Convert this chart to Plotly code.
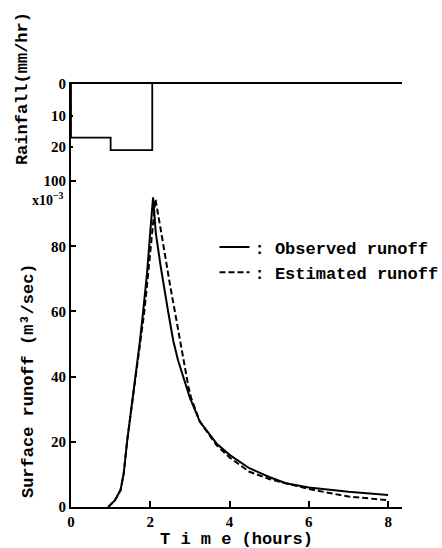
import plotly.graph_objects as go

# Rainfall hyetograph (mm/hr)
rain_start = [0.0, 1.0]
rain_end = [1.0, 2.05]
rain_int = [17, 21]

# Observed runoff (x10^-3 m3/sec)
obs_t = [0.94, 1.0, 1.11, 1.25, 1.33, 1.42, 1.53, 1.64, 1.74, 1.82, 1.92, 1.99, 2.07,
         2.14, 2.26, 2.45, 2.58, 2.70, 2.85, 3.00, 3.25, 3.67, 4.0, 4.5, 5.0, 5.42, 6.0, 7.0, 8.0]
obs_q = [0, 0.8, 2.1, 5.2, 10.3, 20.6, 30.8, 41, 51, 60, 72, 83, 95,
         84, 74, 60, 51, 45, 39, 33.5, 26.2, 19.5, 16.0, 11.9, 9.2, 7.3, 6.0, 4.7, 3.7]

# Estimated runoff
est_t = [0.94, 1.0, 1.11, 1.25, 1.33, 1.42, 1.53, 1.64, 1.75, 1.85, 1.95, 2.04, 2.13,
         2.28, 2.41, 2.50, 2.62, 2.72, 2.80, 2.89, 2.96, 3.03, 3.25, 3.67, 4.0, 4.5, 5.0, 5.42, 6.0, 7.0, 8.0]
est_q = [0, 0.8, 2.1, 5.2, 10.3, 20.6, 30.8, 41, 51, 60, 72, 84, 94.5,
         84, 74, 68, 60, 53, 48, 41, 37, 33.5, 26.2, 19.0, 15.2, 10.8, 8.6, 7.3, 5.5, 3.2, 2.1]

x_ticks = [0, 2, 4, 6, 8]
q_ticks = [0, 20, 40, 60, 80, 100]
r_ticks = [0, 10, 20]

# build step outline of hyetograph
rx = [rain_start[0]]
ry = [0]
for s, v in zip(rain_start, rain_int):
    rx.append(s)
    ry.append(v)
rx.append(rain_end[-1])
ry.append(0)

MONO = "Liberation Mono"
SERIF = "Liberation Serif"

fig = go.Figure()
fig.add_trace(go.Scatter(x=rx, y=ry, mode="lines", line=dict(color="black", width=1.8, shape="hv"),
                         xaxis="x2", yaxis="y2", showlegend=False, hoverinfo="skip"))
fig.add_trace(go.Scatter(x=obs_t, y=obs_q, mode="lines", name=": Observed runoff",
                         line=dict(color="black", width=2)))
fig.add_trace(go.Scatter(x=est_t, y=est_q, mode="lines", name=": Estimated runoff",
                         line=dict(color="black", width=2, dash="6px,3px")))

split = 0.792
axis_common = dict(showgrid=False, zeroline=False, showline=True, linecolor="black", linewidth=2)
tick_font = dict(family=SERIF, size=15, color="black", weight="bold")

fig.update_layout(
    width=442, height=548,
    margin=dict(l=71, r=40, t=84, b=41, autoexpand=False),
    paper_bgcolor="white", plot_bgcolor="white",
    xaxis=dict(**axis_common, range=[0, 8.35], domain=[0, 1], anchor="y",
               tickvals=x_ticks, ticks="inside", ticklen=6, tickwidth=1.5, tickcolor="black",
               tickfont=tick_font),
    yaxis=dict(**axis_common, range=[0, 102.8], domain=[0, split], anchor="x",
               tickvals=q_ticks, ticks="inside", ticklen=5, tickwidth=1.5, tickcolor="black",
               tickfont=tick_font),
    xaxis2=dict(**axis_common, range=[0, 8.35], domain=[0, 1], anchor="y2", side="top",
                showticklabels=False, ticks=""),
    yaxis2=dict(**axis_common, range=[27.9, 0], domain=[split, 1], anchor="x2",
                tickvals=r_ticks, ticks="inside", ticklen=2, tickwidth=1.5, tickcolor="black",
                tickfont=tick_font),
    legend=dict(x=0.4335, y=0.656, xanchor="left", yanchor="top", bgcolor="rgba(0,0,0,0)",
                font=dict(family=MONO, size=17, color="black", weight="bold"),
                itemwidth=30, tracegroupgap=0),
    showlegend=True,
)

title_font = dict(family=MONO, size=17, color="black", weight="bold")
fig.add_annotation(text="Rainfall(mm/hr)", xref="paper", yref="paper", x=-0.148, y=0.988,
                   textangle=-90, showarrow=False, font=title_font, xanchor="center", yanchor="middle")
fig.add_annotation(text="Surface runoff (m³/sec)", xref="paper", yref="paper", x=-0.130, y=0.300,
                   textangle=-90, showarrow=False, font=title_font, xanchor="center", yanchor="middle")
fig.add_annotation(text="T i m e (hours)", xref="paper", yref="paper", x=0.5, y=-0.078,
                   showarrow=False, font=title_font, xanchor="center", yanchor="middle")
fig.add_annotation(text="x10<sup>−3</sup>", xref="paper", yref="paper", x=-0.015, y=0.727,
                   showarrow=False, font=dict(family=SERIF, size=14, color="black", weight="bold"),
                   xanchor="right", yanchor="middle")

fig.write_html("out.html")
